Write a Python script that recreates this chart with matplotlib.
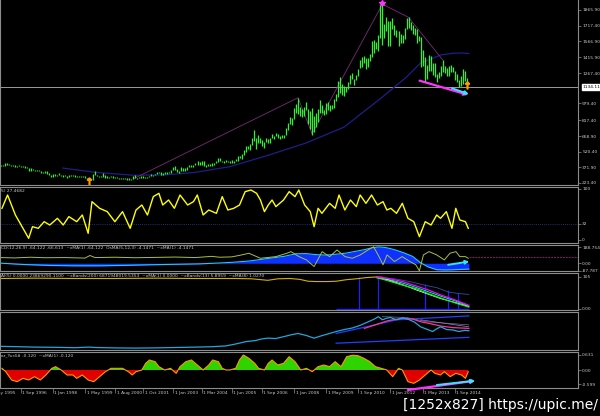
import numpy as np
import pandas as pd
import matplotlib
matplotlib.use("Agg")
import matplotlib.pyplot as plt
import matplotlib.transforms as mtransforms

# ---- data ----
# monthly bars, first one is Aug 1995
start = pd.Timestamp("1995-08-01")
hi = [390, 390, 388, 390, 390,
      418, 416, 400, 396, 394, 390, 388, 390, 388, 384, 384, 376,
      368, 366, 356, 346, 349, 346, 333, 328, 336, 334, 314, 299,
      305, 305, 300, 315, 302, 297, 296, 291, 298, 302, 298, 296,
      293, 292, 290, 288, 289, 268, 262, 260, 308, 338, 300, 290,
      292, 315, 295, 286, 280, 293, 292, 282, 277, 274, 270, 275,
      270, 268, 268, 265, 292, 296, 275, 280, 294, 292, 284, 280,
      291, 312, 304, 310, 328, 331, 326, 318, 327, 325, 326, 350,
      372, 388, 357, 341, 372, 366, 369, 378, 392, 392, 399, 418,
      428, 419, 430, 428, 397, 401, 408, 415, 417, 429, 456, 456,
      431, 437, 446, 437, 431, 444, 432, 447, 476, 477, 497, 538,
      575, 574, 590, 654, 730, 646, 677, 649, 627, 610, 650, 642,
      655, 690, 672, 695, 693, 668, 683, 680, 745, 796, 848, 838,
      935, 975, 1033, 949, 925, 945, 989, 930, 911, 935, 860, 889,
      930, 1007, 960, 920, 987, 992, 960, 962, 1024, 1070, 1195, 1227,
      1162, 1140, 1135, 1185, 1250, 1265, 1212, 1250, 1310, 1388, 1424, 1432,
      1410, 1413, 1445, 1576, 1577, 1559, 1632, 1913, 1921, 1730, 1804, 1760,
      1764, 1792, 1720, 1680, 1667, 1640, 1630, 1692, 1788, 1796, 1755, 1725,
      1695, 1686, 1617, 1605, 1487, 1417, 1347, 1434, 1425, 1361, 1362, 1261,
      1280, 1332, 1392, 1331, 1315, 1330, 1345, 1322, 1290, 1255, 1200, 1238,
      1307, 1284, 1220]
lo = [380, 381, 380, 383, 385,
      388, 395, 393, 389, 389, 380, 380, 385, 378, 378, 370, 367,
      342, 340, 345, 338, 340, 338, 318, 322, 320, 307, 296, 283,
      278, 290, 290, 300, 292, 285, 288, 272, 277, 290, 290, 284,
      282, 282, 278, 278, 268, 256, 252, 252, 254, 296, 288, 276,
      281, 283, 275, 273, 269, 278, 275, 273, 270, 263, 263, 266,
      262, 255, 255, 254, 260, 267, 265, 270, 271, 274, 270, 271,
      277, 292, 290, 298, 306, 315, 301, 300, 313, 310, 316, 318,
      344, 345, 324, 320, 335, 341, 342, 351, 372, 371, 380, 397,
      399, 391, 393, 387, 372, 385, 387, 385, 398, 411, 424, 431,
      420, 411, 424, 420, 414, 414, 418, 429, 434, 462, 455, 490,
      520, 548, 538, 585, 625, 543, 604, 607, 573, 558, 615, 605,
      603, 647, 637, 666, 652, 640, 647, 650, 677, 728, 782, 778,
      834, 887, 880, 860, 849, 855, 912, 786, 740, 681, 705, 754,
      802, 890, 889, 865, 881, 920, 906, 930, 935, 1002, 1040, 1075,
      1058, 1045, 1088, 1112, 1160, 1215, 1157, 1197, 1240, 1316, 1325, 1360,
      1308, 1326, 1385, 1418, 1462, 1497, 1478, 1603, 1534, 1600, 1670, 1521,
      1523, 1688, 1627, 1614, 1527, 1550, 1557, 1587, 1690, 1691, 1673, 1635,
      1626, 1555, 1567, 1321, 1338, 1180, 1208, 1283, 1290, 1251, 1227, 1180,
      1222, 1240, 1277, 1268, 1240, 1240, 1280, 1273, 1206, 1183, 1131, 1142,
      1167, 1191, 1134]
last_price = 1134.11
price_ticks = [1865.90, 1717.40, 1566.90, 1415.90, 1267.40, 979.40,
               817.40, 668.90, 520.40, 371.90, 223.40]

ma_x = [34, 50, 69, 85, 100, 117, 135, 155, 174, 193, 205, 212, 222, 228, 233, 236]
ma_v = [365, 325, 297, 300, 325, 378, 480, 603, 755, 1040, 1230, 1363, 1439, 1455, 1458, 1452]
zz_x = [69, 151, 158, 193, 206, 223]
zz_v = [262, 1033, 690, 1921, 1796, 1392]
fractal_x = [47, 235]
fractal_v = [238, 1150]
peak_x, peak_v = 193, 1930
arrow_mag = [(211.5, 1195), (235.6, 1060)]
arrow_cyan = [(227.6, 1123), (236.0, 1066)]

rsi_x = [3.7, 6.5, 10.4, 12.3, 17.0, 18.9, 21.8, 24.7, 27.5, 31.3,
         34.2, 37.0, 40.9, 43.7, 46.6, 48.5, 52.3, 56.1, 59.9, 63.7,
         67.5, 70.4, 73.3, 76.1, 79.0, 81.8, 83.7, 86.6, 89.5, 92.3,
         96.1, 99.0, 100.9, 103.8, 106.6, 110.4, 113.3, 116.1, 119.0, 121.9,
         124.7, 127.6, 130.4, 132.3, 134.3, 136.2, 138.1, 140.0, 143.8, 146.6,
         149.5, 151.4, 154.3, 157.1, 159.0, 161.0, 162.9, 166.7, 169.5, 171.4,
         174.3, 177.1, 180.0, 181.9, 184.8, 187.6, 190.5, 193.3, 195.2, 197.2,
         200.0, 202.9, 205.7, 208.6, 211.4, 214.3, 217.2, 220.0, 221.9, 224.8,
         227.6, 229.5, 231.5, 234.3, 235.7]
rsi_v = [62.1, 88.2, 49.0, 35.9, 3.3, 26.1, 22.9, 35.9, 29.4, 42.5,
         29.4, 45.8, 35.9, 49.0, 13.1, 75.2, 62.1, 55.6, 35.9, 55.6,
         22.9, 58.8, 68.6, 49.0, 85.0, 91.5, 68.6, 78.4, 62.1, 88.2,
         68.6, 75.2, 88.2, 49.0, 58.8, 52.3, 85.0, 58.8, 62.1, 68.6,
         94.8, 98.0, 91.5, 78.4, 55.6, 68.6, 78.4, 65.4, 78.4, 94.8,
         85.0, 98.0, 68.6, 55.6, 26.1, 62.1, 52.3, 71.9, 62.1, 88.2,
         58.8, 78.4, 65.4, 88.2, 71.9, 88.2, 68.6, 75.2, 58.8, 62.1,
         52.3, 71.9, 42.5, 35.9, 6.5, 35.9, 29.4, 49.0, 42.5, 55.6,
         22.9, 62.1, 39.2, 35.9, 22.9]
rsi_level = 32

macd_x = [3, 15, 28, 40, 52, 65, 77, 90, 102, 112, 119, 127, 136, 144, 150, 155, 160, 165,
          170, 175, 180, 184, 188, 191, 194, 197, 200, 204, 208, 212, 216, 220, 224, 228, 232, 236]
macd_v = [1, -15, -26, -30, -30, -25, -18, -12, -7, 3, 12, 27, 55, 80, 110, 112, 100, 95,
          105, 118, 140, 158, 180, 190, 185, 170, 150, 118, 80, 5, -45, -75, -78, -76, -72, -68]
osma_x = [3, 10, 18, 25, 35, 45, 47.5, 50, 60, 70, 80, 90, 100, 108, 112, 118, 122, 126.6,
          132.3, 140, 145.5, 147.5, 151.5, 155.2, 159, 163, 166.7, 170.4, 174.4, 178, 182,
          185.8, 188.6, 191.3, 193.3, 195.3, 199, 202.8, 206.7, 209.6, 211.4, 213.4, 216.2,
          220, 223.8, 226.6, 229.6, 231.5, 234.3, 235.7]
osma_v = [66, 62, 70, 64, 66, 60, 90, 66, 70, 64, 68, 72, 66, 80, 70, 74, 92, 116,
          58, 77, 116, 135, 77, 39, -38, 135, 77, 154, 77, 58, 97,
          154, 192, 77, -18, 97, 20, 77, 20, -18, -88, 97, 135,
          97, 39, 116, 135, 77, 77, 58]
macd_level = 77
macd_arrow = [(225.7, -18), (236.2, 20)]

p4_yel_x = [3, 20, 40, 60, 80, 100, 120, 128, 136, 141, 147, 152, 156, 160, 166, 170,
            175, 180, 185, 190, 193]
p4_yel_v = [100, 101, 100, 100, 101, 100, 100, 99, 94, 99, 100, 97, 91, 90, 90, 91,
            96, 99, 103, 105, 104]
p4_x = [190, 196, 203, 210, 216, 222, 229, 236]
p4_mag = [105, 100, 90, 75, 62, 46, 30, 12]
p4_grn = [103, 92, 78, 66, 50, 36, 20, 6]
p4_wht = [103, 95, 80, 62, 48, 34, 22, 8]
p4_cyn = [104, 97, 85, 70, 56, 42, 27, 10]
p4_stl_x = [192, 200, 208, 214, 220, 226, 232, 236]
p4_stl = [104, 98, 88, 78, 70, 55, 50, 48]
p4_vl_x = [181.3, 190.8, 214.2, 225.6, 230.6]
p4_vl_top = [104, 106, 82, 62, 52]

p5_x = [3, 12, 20, 30, 40, 47, 50, 60, 70, 80, 90, 100, 108, 115, 120, 125, 130, 133, 136, 140,
        144, 148, 151, 155, 159, 162, 166, 170, 174, 178, 182, 186, 189, 191, 193, 195, 197, 200,
        203, 206, 209, 212, 215, 218, 220, 222, 225, 228, 231, 234, 236]
p5_v = [12, 11, 10, 9.5, 8.5, 10, 9, 8, 7.5, 8, 9, 10, 11, 13, 18, 24, 27, 31, 33, 32,
        37, 42, 45, 40, 33, 38, 44, 50, 55, 59, 66, 75, 82, 88, 80, 84, 86, 80,
        85, 81, 74, 62, 56, 50, 57, 62, 55, 54, 50, 53, 52]
p5_pink_x = [184, 190, 196, 203, 208, 212, 217, 222, 228, 236]
p5_pink_v = [58, 68, 78, 84, 82, 75, 70, 64, 60, 58]
p5_up_x, p5_up_v = [170, 185, 200, 236], [45, 62, 80, 90]
p5_lo_x, p5_lo_v = [170, 236], [20, 35]
p5_s1_x, p5_s1_v = [193, 205, 215, 236], [88, 86, 75, 67]
p5_s2_x, p5_s2_v = [212, 236], [80, 62]

h_x = [3.7, 5.6, 8.5, 11.3, 14.2, 17.0, 19.9, 22.8, 25.6, 28.5,
       30.4, 33.2, 36.1, 39.0, 40.9, 43.7, 46.6, 49.4, 52.3, 55.2,
       58.0, 60.9, 63.7, 66.6, 68.5, 70.4, 73.3, 75.2, 77.1, 79.9,
       81.8, 84.7, 87.6, 90.4, 92.3, 95.2, 98.0, 100.9, 103.8, 106.6,
       108.5, 111.4, 113.3, 115.2, 117.1, 120.0, 121.9, 123.8, 126.6, 129.5,
       131.4, 134.3, 136.2, 138.1, 140.9, 143.8, 146.6, 149.5, 152.4, 155.2,
       158.1, 161.0, 163.8, 166.7, 169.5, 172.4, 175.2, 178.1, 180.9, 183.8,
       186.7, 189.5, 192.4, 195.2, 198.1, 201.0, 202.9, 205.7, 208.6, 211.4,
       214.3, 217.2, 219.1, 221.9, 223.8, 226.7, 229.5, 232.4, 234.3, 235.7]
h_v = [0.07, -0.07, -0.42, -0.49, -0.35, -0.42, -0.28, -0.42, -0.21, 0.07,
       0.14, 0.0, -0.21, -0.21, -0.35, -0.21, -0.42, -0.49, -0.28, -0.07,
       0.07, 0.07, 0.07, -0.07, -0.21, -0.07, 0.0, 0.28, 0.42, 0.35,
       0.14, 0.0, 0.07, -0.14, 0.14, 0.35, 0.42, 0.21, 0.0, 0.21,
       0.42, 0.35, 0.07, 0.0, 0.0, 0.07, 0.42, 0.63, 0.49, 0.28,
       0.07, 0.0, 0.28, 0.42, 0.21, 0.28, 0.56, 0.35, 0.0, 0.07,
       -0.07, 0.14, 0.21, 0.14, 0.35, 0.14, 0.56, 0.62, 0.6, 0.49,
       0.35, 0.14, 0.07, 0.0, -0.28, 0.07, 0.0, -0.49, -0.56, -0.42,
       -0.21, 0.0, -0.14, -0.21, -0.07, -0.28, -0.14, -0.21, -0.35, -0.07]
h_arrow_mag = [(205.7, -0.84), (239.1, -0.45)]
h_arrow_cyan = [(220.0, -0.63), (239.1, -0.45)]

xlabels = ["1 May 1995", "1 Sep 1996", "1 Jan 1998", "1 May 1999", "1 Aug 2000",
           "1 Oct 2001", "1 Jan 2003", "1 Mar 2004", "1 Jun 2005", "1 Sep 2006",
           "1 Jan 2008", "1 May 2009", "1 Sep 2010", "1 Jan 2012", "1 May 2013",
           "1 Sep 2014"]

titles = {
    "rsi": "5) 27.4682",
    "macd": "CD(12,26,9) -64.122 -66.613  ~xMA(1) -64.122  OsMA(5,12,3) -4.1471  ~xMA(1) -4.1471",
    "p4": "AI(5) 0.0000 23869290.1100  ~xBands(200) 6871948019.5353  ~xMA(1) 0.0000  "
          "~xBands(13) 5.8959  ~xMA(8) 1.0270",
    "p6": "ar_Yur4# -0.120  ~xMA(1) -0.120",
}

# ---- layout ----
W, H = 600, 416
XL = (2.74, 290.3)
GRID = "#8c8c8c"
TXT = "#c8c8c8"
FS = 3.2

fig = plt.figure(figsize=(6, 4.16), dpi=100, facecolor="black")


def panel(y0, y1, ylim, ticks, labels):
    ax = fig.add_axes([0, 1 - y1 / H, 578 / W, (y1 - y0) / H])
    ax.set_facecolor("black")
    ax.set_xlim(*XL)
    ax.set_ylim(*ylim)
    for s in ax.spines.values():
        s.set_color(GRID)
        s.set_linewidth(0.8)
    ax.set_xticks([])
    ax.yaxis.tick_right()
    ax.set_yticks(ticks)
    ax.set_yticklabels(labels)
    ax.tick_params(axis="y", colors=GRID, labelcolor=TXT, labelsize=FS,
                   length=2, width=0.5, pad=1)
    return ax


def title(ax, s):
    ax.text(0.002, 0.97, s, transform=ax.transAxes, fontsize=FS, color=TXT,
            va="top", ha="left")


def arrow(ax, pts, color, lw=1.4):
    ax.annotate("", xy=pts[1], xytext=pts[0], annotation_clip=False,
                arrowprops=dict(arrowstyle="-|>", color=color, lw=lw,
                                mutation_scale=5, shrinkA=0, shrinkB=0))


# main price window
ax1 = panel(0, 185, (204.4, 1960.8), price_ticks, [f"{v:.2f}" for v in price_ticks])
ax1.spines["top"].set_visible(False)
months = np.arange(len(hi))
ax1.axhline(last_price, color="#9a9a9a", lw=0.7)
ax1.plot(ma_x, ma_v, color="#1e1e8c", lw=0.9)
ax1.plot(zz_x, zz_v, color="#7b2a7b", lw=0.6)
ax1.vlines(months, lo, hi, color="#33f033", lw=0.9)
ax1.plot(fractal_x, fractal_v, ls="none", marker="$\u2191$", color="#ff9900", ms=5)
ax1.plot([peak_x], [peak_v], ls="none", marker="*", color="#ff33ff", ms=4)
arrow(ax1, arrow_mag, "#ff33ff", 1.6)
arrow(ax1, arrow_cyan, "#33e5ff", 1.4)
ax1.text(1.008, last_price, f"{last_price:.2f}", transform=ax1.get_yaxis_transform(),
         fontsize=FS, color="black", va="center", ha="left", clip_on=False,
         bbox=dict(boxstyle="square,pad=0.25", fc="white", ec="white"))

# oscillator window
ax2 = panel(187, 243, (-5.9, 103.9), [100, rsi_level, 0], ["100", str(rsi_level), "0"])
ax2.axhline(rsi_level, color="#2a3f9a", lw=0.6, ls=(0, (1, 1.5)))
ax2.plot(rsi_x, rsi_v, color="#ffff00", lw=1.0)
title(ax2, titles["rsi"])

# MACD window
ax3 = panel(245, 271, (-90, 212), [188.754, 0, -87.787], ["188.754", "0.00", "-87.787"])
ax3.fill_between(macd_x, macd_v, 0, color="#1030ff", lw=0)
ax3.plot(macd_x, macd_v, color="#1ec8ff", lw=0.8)
ax3.plot(osma_x, osma_v, color="#a8c040", lw=0.7)
ax3.hlines(macd_level, macd_x[-1], XL[1], color="#8b1a6b", lw=0.7, ls=(0, (2, 1)))
arrow(ax3, macd_arrow, "#33e5ff", 1.4)
title(ax3, titles["macd"])

# bands window
ax4 = panel(273, 310, (-3.3, 118), [105, 0], ["105", "0.00"])
ax4.vlines(p4_vl_x, 0, p4_vl_top, color="#2020ff", lw=0.9)
ax4.hlines(0, 170, p4_x[-1], color="#2020ff", lw=1.0)
ax4.plot(p4_yel_x, p4_yel_v, color="#d4b000", lw=0.8)
ax4.plot(p4_stl_x, p4_stl, color="#3050a0", lw=0.6)
ax4.plot(p4_x, p4_cyn, color="#00ffff", lw=0.6)
ax4.plot(p4_x, p4_wht, color="#e0ffe0", lw=0.6)
ax4.plot(p4_x, p4_grn, color="#00ff00", lw=0.8)
ax4.plot(p4_x, p4_mag, color="#ff00ff", lw=0.9)
title(ax4, titles["p4"])

# price-like window
ax5 = panel(312, 350, (2.6, 100), [], [])
ax5.plot(p5_up_x, p5_up_v, color="#2040ff", lw=0.9)
ax5.plot(p5_lo_x, p5_lo_v, color="#2040ff", lw=0.9)
ax5.plot(p5_s1_x, p5_s1_v, color="#7070a0", lw=0.5)
ax5.plot(p5_s2_x, p5_s2_v, color="#9a80c0", lw=0.5)
ax5.plot(p5_pink_x, p5_pink_v, color="#ff3399", lw=0.9)
ax5.plot(p5_x, p5_v, color="#1ea8e0", lw=0.9)

# histogram window
ax6 = panel(352, 388, (-0.756, 0.756), [0.631, 0, -0.599], ["0.631", "0.00", "-0.599"])
hx, hv = np.array(h_x), np.array(h_v)
ax6.fill_between(hx, hv, 0, where=hv >= 0, interpolate=True, color="#2fd400", lw=0)
ax6.fill_between(hx, hv, 0, where=hv <= 0, interpolate=True, color="#e00000", lw=0)
ax6.plot(hx, hv, color="#ff9900", lw=0.8)
arrow(ax6, h_arrow_mag, "#ff33ff", 1.6)
arrow(ax6, h_arrow_cyan, "#33e5ff", 1.4)
title(ax6, titles["p6"])

# time axis
pos = [(pd.to_datetime(s, format="%d %b %Y").year - start.year) * 12
       + pd.to_datetime(s, format="%d %b %Y").month - start.month for s in xlabels]
ax6.set_xticks([p for p in pos if p > XL[0]])
ax6.tick_params(axis="x", colors=GRID, length=3.5, width=0.5, labelbottom=False)
tr = mtransforms.blended_transform_factory(ax6.transData, ax6.transAxes)
for p, s in zip(pos, xlabels):
    ax6.text(p + 0.8, -0.13, s, transform=tr, fontsize=FS, color=TXT,
             va="center", ha="left", clip_on=False)

fig.text(0.997, 1 - 405 / H, "[1252x827] https://upic.me/", color="white",
         fontsize=10, ha="right", va="center")

fig.savefig("out.png", dpi=100, facecolor="black")
